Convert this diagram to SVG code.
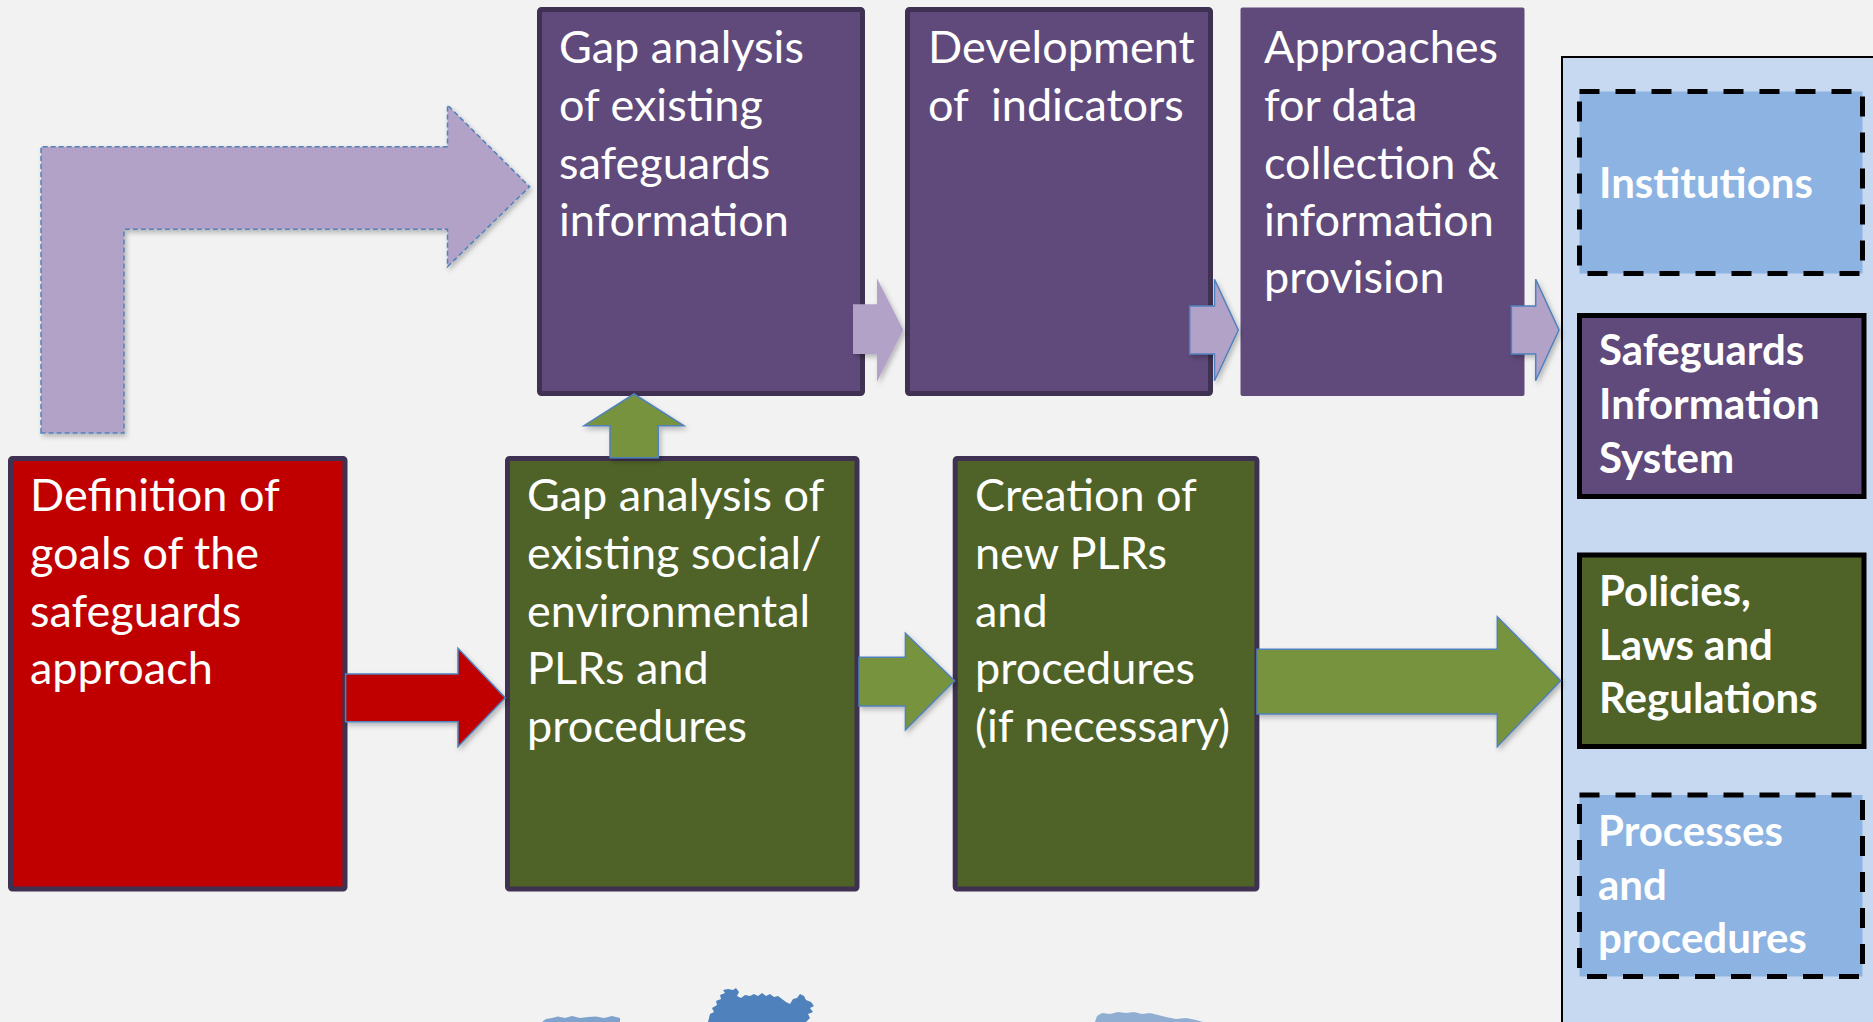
<svg xmlns="http://www.w3.org/2000/svg" width="1873" height="1022" viewBox="0 0 1873 1022">
  <defs>
    <filter id="sh" x="-20%" y="-20%" width="140%" height="140%">
      <feDropShadow dx="2" dy="3" stdDeviation="2.5" flood-color="#000" flood-opacity="0.25"/>
    </filter>
    <style>
      .t { font-family: Lato, "Open Sans", "Liberation Sans", sans-serif; font-size: 45px; fill: #ffffff; }
      .tb { font-family: Lato, "Open Sans", "Liberation Sans", sans-serif; font-size: 42px; font-weight: bold; fill: #ffffff; }
      .box { stroke: #3F3151; stroke-width: 5; }
      .purple { fill: #604A7B; }
      .green { fill: #4F6228; }
      .red { fill: #C00000; }
      .lav { fill: #B3A2C7; }
      .arr { stroke: #4F81BD; stroke-width: 1.5; stroke-linejoin: miter; }
      .pan { fill: #8DB3E2; stroke: #000; stroke-width: 5; stroke-dasharray: 20 16; }
      .solid { stroke: #000; stroke-width: 5; }
      .tree { fill: #4F81BD; }
    </style>
  </defs>

  <rect x="0" y="0" width="1873" height="1022" fill="#F2F2F2"/>

  <!-- background tree silhouettes -->
  <g id="trees">
    <path class="tree" opacity="0.7" d="M542,1022 L546,1019 L552,1018 L558,1016.5 L565,1018 L572,1016 L580,1018 L588,1017 L596,1016.5 L604,1018 L612,1016 L620,1018 L620,1022 Z"/>
    <path class="tree" d="M708,1022 L710,1014 L714,1012 L712,1008 L717,1005 L716,1001 L721,999 L720,995 L725,993 L723,990 L728,989 L733,990 L736,988 L739,992 L737,996 L741,998 L745,995 L750,996 L754,994 L758,996 L762,993 L766,996 L770,994 L774,997 L778,996 L782,999 L786,1002 L790,1004 L793,999 L797,998 L800,994 L804,996 L806,1000 L811,1002 L814,1006 L810,1008 L813,1012 L808,1014 L810,1018 L806,1022 Z"/>
    <path class="tree" opacity="0.6" d="M1095,1022 L1097,1016 L1102,1013 L1110,1014 L1118,1012 L1126,1013 L1134,1012 L1142,1014 L1150,1013 L1158,1015 L1166,1017 L1176,1019 L1186,1018 L1196,1020 L1203,1022 Z"/>
  </g>

  <!-- right panel -->
  <g id="panel">
    <rect x="1562" y="57" width="320" height="980" fill="#C6D9F1" stroke="#000" stroke-width="2"/>
  </g>

  <g id="institutions">
    <rect class="pan" x="1579.5" y="91.5" width="283" height="182"/>
    <text class="tb" x="1599" y="198">Institutions</text>
  </g>
  <g id="sis">
    <rect class="purple solid" x="1579.5" y="315.5" width="284.5" height="181"/>
    <text class="tb" x="1599" y="365">Safeguards</text>
    <text class="tb" x="1599" y="419">Information</text>
    <text class="tb" x="1599" y="473">System</text>
  </g>
  <g id="plr">
    <rect class="green solid" x="1579.5" y="555" width="284.5" height="191.5"/>
    <text class="tb" x="1599" y="606">Policies,</text>
    <text class="tb" x="1599" y="660">Laws and</text>
    <text class="tb" x="1599" y="713">Regulations</text>
  </g>
  <g id="processes">
    <rect class="pan" x="1579.5" y="795" width="283" height="181.5"/>
    <text class="tb" x="1598" y="846">Processes</text>
    <text class="tb" x="1598" y="900">and</text>
    <text class="tb" x="1598" y="953">procedures</text>
  </g>

  <!-- top row -->
  <g id="gap-info">
    <rect class="purple box" x="539.5" y="9.5" width="323" height="384" rx="2"/>
    <text class="t" x="559" y="63">Gap analysis</text>
    <text class="t" x="559" y="121">of existing</text>
    <text class="t" x="559" y="179">safeguards</text>
    <text class="t" x="559" y="236">information</text>
  </g>
  <g id="indicators">
    <rect class="purple box" x="907.5" y="9.5" width="303" height="384" rx="2"/>
    <text class="t" x="928" y="63" xml:space="preserve">Development</text>
    <text class="t" x="928" y="121" xml:space="preserve">of  indicators</text>
  </g>
  <g id="approaches">
    <rect class="purple" x="1240.5" y="7.5" width="284" height="388.5" rx="2"/>
    <text class="t" x="1264" y="63">Approaches</text>
    <text class="t" x="1264" y="121">for data</text>
    <text class="t" x="1264" y="179">collection &amp;</text>
    <text class="t" x="1264" y="236">information</text>
    <text class="t" x="1264" y="293">provision</text>
  </g>

  <!-- bottom row -->
  <g id="goals">
    <rect class="red box" x="10.5" y="458.5" width="334.5" height="430.5" rx="2"/>
    <text class="t" x="30" y="511">Definition of</text>
    <text class="t" x="30" y="569">goals of the</text>
    <text class="t" x="30" y="627">safeguards</text>
    <text class="t" x="30" y="684">approach</text>
  </g>
  <g id="gap-plr">
    <rect class="green box" x="507.5" y="458.5" width="349.5" height="430.5" rx="2"/>
    <text class="t" x="527" y="511">Gap analysis of</text>
    <text class="t" x="527" y="569">existing social/</text>
    <text class="t" x="527" y="627">environmental</text>
    <text class="t" x="527" y="684">PLRs and</text>
    <text class="t" x="527" y="742">procedures</text>
  </g>
  <g id="new-plr">
    <rect class="green box" x="955.2" y="458.5" width="301.7" height="430.5" rx="2"/>
    <text class="t" x="975" y="511">Creation of</text>
    <text class="t" x="975" y="569">new PLRs</text>
    <text class="t" x="975" y="627">and</text>
    <text class="t" x="975" y="684">procedures</text>
    <text class="t" x="975" y="742">(if necessary)</text>
  </g>

  <!-- connectors -->
  <g id="connectors">
    <path class="lav arr" stroke-dasharray="5 3" filter="url(#sh)" d="M41,433 L41,146.7 L447.5,146.7 L447.5,105 L529.6,186.7 L447.5,266.7 L447.5,229.3 L124,229.3 L124,433 Z"/>
    <path class="lav" filter="url(#sh)" d="M853,304.3 L877,304.3 L877,278.3 L903.3,330 L877,381.7 L877,354 L853,354 Z"/>
    <path class="lav arr" filter="url(#sh)" d="M1189.7,306 L1214.5,306 L1214.5,279.3 L1238.3,330 L1214.5,380.7 L1214.5,354 L1189.7,354 Z"/>
    <path class="lav arr" filter="url(#sh)" d="M1511.4,306 L1535.7,306 L1535.7,279.3 L1559.1,330 L1535.7,380.7 L1535.7,354 L1511.4,354 Z"/>
    <path class="red arr" filter="url(#sh)" d="M345.6,674 L458,674 L458,648.3 L505.2,697.7 L458,746.7 L458,721.7 L345.6,721.7 Z"/>
    <path class="arr" fill="#77933C" filter="url(#sh)" d="M859,657.3 L905.4,657.3 L905.4,633.3 L954.5,680.7 L905.4,730 L905.4,706 L859,706 Z"/>
    <path class="arr" fill="#77933C" filter="url(#sh)" d="M1257,649.3 L1497.3,649.3 L1497.3,616.7 L1560.7,680.7 L1497.3,746.7 L1497.3,714 L1257,714 Z"/>
    <path class="arr" fill="#77933C" stroke-width="2" filter="url(#sh)" d="M610,457.7 L610,425.7 L584,425.7 L634,394 L684,425.7 L658.3,425.7 L658.3,457.7 Z"/>
  </g>
</svg>
